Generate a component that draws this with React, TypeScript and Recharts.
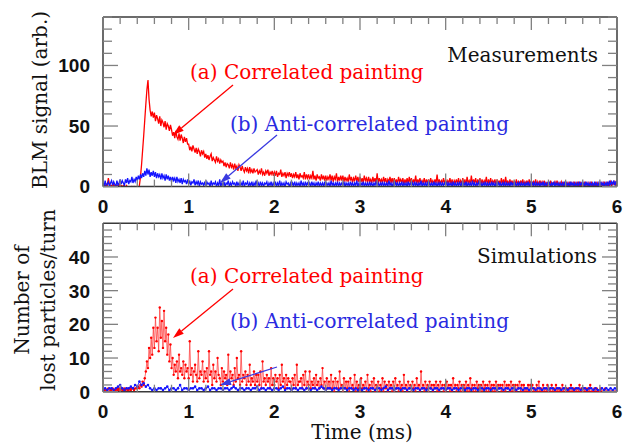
import React from 'react'
import { LineChart, Line, XAxis, YAxis } from 'recharts'

// sample spacing of the traces, in ms
const MEAS_STEP = 0.0125
const SIM_STEP = 0.0125
const SIM_ANTI_STEP = 0.025

// BLM signal, correlated painting (16 samples = 0.2 ms per row)
const MEAS_CORRELATED = [
  0, 1, 0, 2, 1, 7, 2, 0, 1, 0, 2, 0, 1, 1, 0, 2,
  0, 1, 0, 1, 0, 0, 1, -1, 0, 0, -1, 0, -1, 0, -1, -1,
  0, -1, 1, 8, 18, 30, 42, 55, 68, 80, 88, 72, 63, 58, 62, 57,
  61, 54, 59, 56, 52, 58, 50, 55, 53, 49, 54, 47, 52, 50, 46, 51,
  47, 42, 45, 40, 46, 41, 39, 44, 38, 43, 40, 36, 41, 37, 40, 35,
  35, 30, 33, 29, 34, 31, 28, 32, 27, 31, 29, 25, 30, 27, 29, 24,
  27, 23, 26, 22, 25, 27, 21, 24, 22, 20, 25, 21, 23, 19, 22, 20,
  21, 17, 20, 16, 19, 18, 15, 20, 16, 18, 14, 19, 15, 17, 13, 18,
  16, 13, 17, 14, 12, 16, 13, 15, 11, 16, 12, 14, 11, 15, 12, 13,
  14, 10, 13, 11, 15, 10, 12, 9, 13, 11, 14, 9, 12, 10, 13, 9,
  12, 9, 13, 8, 11, 10, 14, 8, 11, 9, 12, 7, 11, 9, 12, 8,
  11, 7, 10, 8, 12, 7, 10, 6, 11, 8, 9, 7, 12, 6, 10, 7,
  10, 6, 9, 7, 13, 6, 9, 5, 10, 7, 8, 5, 10, 6, 9, 5,
  9, 5, 8, 6, 10, 5, 9, 4, 8, 6, 11, 4, 8, 5, 9, 5,
  9, 4, 8, 5, 7, 4, 10, 5, 8, 3, 7, 5, 9, 4, 8, 4,
  8, 4, 7, 3, 9, 5, 7, 3, 8, 4, 6, 3, 8, 4, 7, 3,
  11, 3, 7, 4, 6, 3, 8, 4, 7, 2, 6, 4, 8, 3, 7, 3,
  7, 3, 6, 2, 8, 4, 6, 3, 7, 2, 6, 3, 7, 2, 8, 3,
  7, 2, 6, 3, 9, 2, 6, 3, 7, 2, 5, 3, 7, 2, 6, 3,
  6, 2, 7, 3, 5, 2, 6, 3, 10, 2, 6, 2, 5, 3, 7, 2,
  6, 2, 5, 3, 7, 2, 6, 1, 5, 3, 6, 2, 7, 2, 5, 2,
  7, 2, 6, 1, 8, 3, 5, 2, 9, 2, 6, 3, 7, 1, 6, 2,
  7, 2, 6, 2, 5, 3, 8, 1, 6, 2, 7, 2, 5, 3, 6, 1,
  6, 2, 5, 1, 7, 2, 6, 1, 8, 2, 5, 1, 6, 2, 5, 1,
  5, 1, 6, 2, 4, 1, 5, 2, 6, 1, 4, 2, 5, 1, 6, 1,
  5, 1, 4, 2, 6, 1, 4, 1, 5, 2, 4, 1, 5, 1, 3, 1,
  4, 1, 5, 1, 3, 2, 4, 1, 5, 1, 3, 1, 4, 1, 3, 0,
  4, 1, 3, 0, 4, 1, 3, 1, 4, 0, 3, 1, 4, 0, 3, 1,
  3, 0, 4, 1, 3, 0, 3, 1, 4, 0, 2, 1, 3, 0, 3, 1,
  3, 1, 3, 0, 4, 1, 3, 0, 3, 1, 4, 1, 3, 2, 4, 1,
  3,
]

// BLM signal, anti-correlated painting
const MEAS_ANTI = [
  3, 0, 5, 1, 2, 4, 0, 3, 5, 1, 4, 2, 0, 5, 1, 3,
  6, 2, 5, 3, 1, 6, 3, 7, 2, 5, 4, 8, 3, 6, 4, 8,
  5, 9, 6, 10, 7, 11, 8, 13, 9, 15, 10, 14, 8, 12, 9, 13,
  8, 12, 7, 11, 8, 10, 6, 11, 7, 9, 5, 10, 6, 9, 5, 8,
  4, 8, 5, 7, 3, 8, 4, 6, 3, 7, 2, 6, 4, 5, 2, 6,
  2, 5, 1, 4, 3, 6, 1, 4, 2, 5, 0, 4, 2, 3, 1, 4,
  0, 4, 2, 3, 0, 5, 1, 3, 2, 4, 0, 3, 1, 6, 0, 3,
  1, 4, 0, 3, 2, 5, 0, 3, 1, 4, 2, 3, 0, 4, 1, 3,
  0, 3, 1, 5, 0, 3, 2, 4, 0, 3, 1, 4, 0, 3, 1, 5,
  1, 3, 0, 4, 1, 3, 0, 3, 2, 4, 0, 3, 1, 4, 0, 3,
  1, 4, 0, 3, 1, 5, 0, 3, 1, 3, 0, 4, 2, 3, 0, 3,
  0, 3, 1, 4, 0, 3, 1, 3, 0, 5, 1, 3, 0, 4, 1, 3,
  1, 3, 0, 4, 1, 3, 0, 3, 1, 4, 0, 3, 1, 3, 0, 4,
  0, 3, 1, 3, 0, 5, 1, 3, 0, 3, 1, 4, 0, 3, 1, 3,
  1, 4, 0, 3, 1, 3, 0, 4, 1, 3, 0, 3, 1, 5, 0, 3,
  0, 3, 1, 4, 0, 3, 1, 3, 0, 4, 1, 3, 0, 3, 1, 4,
  1, 3, 0, 3, 1, 4, 0, 3, 1, 3, 0, 5, 1, 3, 0, 3,
  0, 4, 1, 3, 0, 3, 1, 4, 0, 3, 1, 3, 0, 4, 1, 3,
  1, 3, 0, 4, 1, 3, 0, 3, 1, 5, 0, 3, 1, 3, 0, 4,
  0, 3, 1, 3, 0, 4, 1, 3, 0, 3, 1, 4, 0, 3, 1, 3,
  1, 4, 0, 3, 1, 3, 0, 4, 1, 3, 0, 3, 1, 4, 0, 3,
  0, 3, 1, 4, 0, 3, 1, 3, 0, 5, 1, 3, 0, 3, 1, 4,
  1, 3, 0, 3, 1, 4, 0, 3, 1, 3, 0, 4, 1, 3, 0, 3,
  0, 4, 1, 3, 0, 3, 1, 4, 0, 3, 1, 3, 0, 4, 1, 3,
  1, 3, 0, 3, 1, 4, 0, 3, 1, 3, 0, 3, 1, 4, 0, 3,
  0, 3, 1, 4, 0, 3, 1, 3, 0, 3, 1, 4, 0, 3, 1, 3,
  1, 3, 0, 3, 1, 4, 0, 3, 1, 3, 0, 3, 1, 3, 0, 4,
  0, 3, 1, 3, 0, 4, 1, 3, 0, 3, 1, 3, 0, 4, 1, 3,
  1, 3, 0, 4, 1, 3, 0, 3, 1, 3, 0, 4, 1, 3, 0, 3,
  0, 4, 1, 3, 0, 3, 1, 4, 0, 5, 1, 4, 2, 5, 1, 4,
  4,
]

// simulated lost particles per turn, correlated painting (16 samples = 0.2 ms per row)
const SIM_CORRELATED = [
  0, 0.5, 0, 0.5, 0, 1, 0, 0.5, 0.5, 1, 0, 0.5, 0.5, 1, 0.5, 1,
  0.5, 1, 0.5, 0.5, 1, 0.5, 1, 0.5, 0.5, 1, 0.5, 1, 1, 0.5, 1, 1,
  1, 1.5, 1, 2, 1.5, 3, 2, 4, 6, 9, 7, 13, 10, 16, 11, 19,
  13, 22, 15, 19, 12, 25, 16, 21, 13, 24, 15, 19, 11, 17, 9, 14,
  7, 10, 5, 8, 6, 9, 4, 11, 6, 7, 5, 9, 4, 8, 6, 7,
  4, 15, 5, 7, 3, 6, 8, 5, 3, 12, 4, 6, 5, 9, 3, 6,
  4, 7, 3, 12, 5, 6, 2, 8, 4, 6, 3, 10, 5, 4, 2, 7,
  3, 6, 4, 5, 2, 11, 3, 6, 4, 5, 2, 7, 3, 10, 4, 5,
  2, 12, 3, 5, 4, 6, 2, 5, 3, 8, 2, 4, 3, 6, 2, 5,
  3, 5, 2, 6, 1, 9, 3, 4, 2, 5, 3, 4, 1, 7, 2, 4,
  2, 5, 3, 4, 1, 5, 2, 8, 3, 4, 1, 5, 2, 4, 3, 3,
  1, 4, 2, 5, 1, 8, 2, 3, 3, 4, 1, 5, 2, 6, 1, 3,
  2, 6, 1, 3, 2, 4, 1, 5, 2, 3, 1, 4, 2, 7, 1, 3,
  1, 4, 1, 3, 1, 5, 1, 3, 0, 4, 1, 3, 1, 6, 1, 2,
  0, 4, 1, 3, 1, 3, 0, 4, 1, 2, 1, 5, 0, 3, 1, 2,
  0, 4, 1, 2, 1, 3, 0, 5, 1, 2, 0, 3, 1, 4, 0, 2,
  1, 3, 0, 2, 1, 4, 0, 3, 1, 2, 0, 3, 1, 2, 0, 3,
  0, 4, 1, 2, 0, 3, 1, 2, 0, 5, 1, 2, 0, 3, 1, 2,
  0, 3, 1, 2, 0, 4, 1, 2, 0, 6, 1, 2, 0, 3, 1, 2,
  0, 3, 1, 2, 0, 2, 1, 3, 0, 2, 0, 3, 1, 2, 0, 2,
  0, 3, 1, 2, 0, 2, 0, 4, 1, 2, 0, 2, 1, 3, 0, 2,
  0, 2, 1, 3, 0, 2, 0, 4, 1, 2, 0, 2, 0, 3, 1, 2,
  0, 2, 0, 3, 1, 2, 0, 2, 0, 3, 1, 2, 0, 2, 0, 3,
  0, 2, 1, 2, 0, 2, 0, 3, 0, 2, 1, 2, 0, 3, 0, 2,
  0, 2, 0, 2, 1, 3, 0, 2, 0, 2, 0, 1, 0, 2, 0, 2,
  0, 2, 0, 1, 0, 2, 0, 3, 0, 1, 0, 2, 0, 1, 0, 2,
  0, 1, 0, 2, 0, 1, 0, 2, 0, 1, 0, 1, 0, 2, 0, 1,
  0, 1, 0, 1, 0, 2, 0, 1, 0, 1, 0, 1, 0, 2, 0, 1,
  0, 1, 0, 1, 0, 1, 0, 2, 0, 0, 0, 1, 0, 1, 0, 0,
  0, 1, 0, 0, 0, 1, 0, 0, 0, 0, 0, 0, 0, 0, 0, 0,
  0,
]

// simulated lost particles per turn, anti-correlated painting (8 samples per row)
const SIM_ANTI = [
  0.5, 1, 0.5, 1, 1, 0.5, 1, 1.5,
  2, 1, 0.5, 1, 1, 1.5, 1, 2,
  1.5, 3, 2, 2.5, 1.5, 2, 1, 0.5,
  1, 0.5, 1, 1, 0.5, 1, 1.5, 0.5,
  1, 1, 0.5, 1, 2, 0.5, 1, 1,
  0.5, 1, 1, 1.5, 0.5, 1, 1, 0.5,
  1, 1.5, 0.5, 1, 1, 0.5, 1, 1,
  0.5, 1, 1, 0.5, 1, 1.5, 1, 0.5,
  1, 1, 0.5, 1, 1, 0.5, 1, 1,
  1.5, 0.5, 1, 1, 0.5, 1, 1, 0.5,
  1, 1, 0.5, 1, 1.5, 0.5, 1, 1,
  0.5, 1, 1, 0.5, 1, 1, 0.5, 1,
  1, 0.5, 1, 1, 0.5, 1, 1.5, 1,
  0.5, 1, 1, 0.5, 1, 1, 0.5, 1,
  1, 1, 0.5, 1, 1, 0.5, 1, 0.5,
  1, 0.5, 1, 1, 0.5, 1, 1, 0.5,
  1, 1, 0.5, 1, 1.5, 0.5, 1, 1,
  0.5, 1, 1, 0.5, 1, 1, 0.5, 1,
  1, 0.5, 1, 1, 0.5, 1, 1, 0.5,
  1, 1, 0.5, 1, 1, 0.5, 1, 1,
  0.5, 1, 1, 0.5, 1, 1, 0.5, 1,
  1, 0.5, 1, 1, 0.5, 1, 1, 0.5,
  1, 1, 0.5, 1, 1, 0.5, 1, 1,
  0.5, 1, 1, 0.5, 1, 1, 0.5, 1,
  1, 0.5, 1, 1, 0.5, 1, 1, 0.5,
  1, 1, 0.5, 1, 1, 0.5, 1, 1,
  0.5, 1, 1, 0.5, 1, 1, 0.5, 1,
  1, 0.5, 1, 1, 0.5, 1, 1, 0.5,
  1, 1, 0.5, 1, 1, 0.5, 1, 0.5,
  0.5, 1, 0.5, 1, 0.5, 1, 0.5, 1,
  0.5,
]

const TIME_TICKS = [
  0, 0.2, 0.4, 0.6, 0.8, 1, 1.2, 1.4, 1.6, 1.8, 2, 2.2, 2.4, 2.6, 2.8, 3,
  3.2, 3.4, 3.6, 3.8, 4, 4.2, 4.4, 4.6, 4.8, 5, 5.2, 5.4, 5.6, 5.8, 6,
]
const MEAS_TICKS = [0, 10, 20, 30, 40, 50, 60, 70, 80, 90, 100, 110, 120, 130, 140]
const MEAS_LABELED = [0, 50, 100]
const SIM_TICKS = [0, 2, 4, 6, 8, 10, 12, 14, 16, 18, 20, 22, 24, 26, 28, 30, 32, 34, 36, 38, 40, 42, 44, 46, 48]
const SIM_LABELED = [0, 10, 20, 30, 40]

type Pt = { t: number; v: number }
const toPoints = (vals: number[], step: number): Pt[] => vals.map((v, i) => ({ t: i * step, v }))

const W = 625
const H = 443
const LEFT = 103
const RIGHT = 8
const MEAS_TOP = 17
const MEAS_BOTTOM = 186.6
const SIM_TOP = 223.3
const SIM_BOTTOM = 391.7

const RED = '#ff0000'
const BLUE = '#1414ff'
const FRAME = '#3a3a3a'
const TICK = '#808080'
const SERIF = '"DejaVu Serif", serif'
const NUM_FONT = '"Liberation Sans", Arial, sans-serif'

const isWhole = (v: number) => Number.isInteger(v)

// ticks point inward from the frame; numbers only on the left and bottom
function makeTick(side: 'top' | 'bottom' | 'left' | 'right', major: (v: number) => boolean) {
  return (props: any) => {
    const { x, y, payload } = props
    const v = payload.value as number
    const big = major(v)
    const len = big ? 13 : 7
    if (side === 'bottom') {
      return (
        <g>
          <line x1={x} x2={x} y1={y} y2={y - len} stroke={TICK} strokeWidth={1.3} />
          {big && (
            <text x={x} y={y + 26} textAnchor="middle" fontFamily={NUM_FONT} fontWeight="bold" fontSize={19} fill="#111">
              {v}
            </text>
          )}
        </g>
      )
    }
    if (side === 'top') {
      return <line x1={x} x2={x} y1={y} y2={y + len} stroke={TICK} strokeWidth={1.3} />
    }
    if (side === 'left') {
      return (
        <g>
          <line x1={x} x2={x + len + 2} y1={y} y2={y} stroke={TICK} strokeWidth={1.3} />
          {big && (
            <text x={x - 13} y={y} dy="0.36em" textAnchor="end" fontFamily={NUM_FONT} fontWeight="bold" fontSize={19} fill="#111">
              {v}
            </text>
          )}
        </g>
      )
    }
    return <line x1={x} x2={x - len - 2} y1={y} y2={y} stroke={TICK} strokeWidth={1.3} />
  }
}

type PanelProps = {
  red: Pt[]
  blue: Pt[]
  top: number
  bottom: number
  yMax: number
  yTicks: number[]
  labeled: number[]
  dots?: boolean
}

// one framed panel; the axes are 1px thick so their lines sit on the plot edges
function Panel({ red, blue, top, bottom, yMax, yTicks, labeled, dots }: PanelProps) {
  const yMajor = (v: number) => labeled.includes(v)
  const xCommon = {
    dataKey: 't',
    type: 'number' as const,
    domain: [0, 6],
    ticks: TIME_TICKS,
    interval: 0,
    allowDataOverflow: true,
    height: 1,
    tickSize: 0,
    tickMargin: 0,
    tickLine: false,
    axisLine: { stroke: FRAME, strokeWidth: 1.5 },
  }
  const yCommon = {
    type: 'number' as const,
    domain: [0, yMax],
    ticks: yTicks,
    interval: 0,
    allowDataOverflow: true,
    width: 1,
    tickSize: 0,
    tickMargin: 0,
    tickLine: false,
    axisLine: { stroke: FRAME, strokeWidth: 1.5 },
  }
  return (
    <div style={{ position: 'absolute', left: 0, top: 0 }}>
      <LineChart width={W} height={H} margin={{ top: top - 1, right: RIGHT - 1, bottom: H - bottom - 1, left: LEFT - 1 }}>
        <XAxis xAxisId="b" {...xCommon} tick={makeTick('bottom', isWhole)} />
        <XAxis xAxisId="t" orientation="top" {...xCommon} tick={makeTick('top', isWhole)} />
        <YAxis yAxisId="l" {...yCommon} tick={makeTick('left', yMajor)} />
        <YAxis yAxisId="r" orientation="right" {...yCommon} tick={makeTick('right', yMajor)} />
        <Line
          xAxisId="b"
          yAxisId="l"
          data={red}
          dataKey="v"
          type="linear"
          stroke={dots ? '#ff4444' : RED}
          strokeWidth={dots ? 0.8 : 1.3}
          dot={dots ? { r: 1.2, fill: RED, stroke: 'none' } : false}
          isAnimationActive={false}
        />
        <Line
          xAxisId="b"
          yAxisId="l"
          data={blue}
          dataKey="v"
          type="linear"
          stroke={BLUE}
          strokeWidth={dots ? 0.9 : 1.3}
          dot={dots ? { r: 1.3, fill: BLUE, stroke: 'none' } : false}
          isAnimationActive={false}
        />
      </LineChart>
    </div>
  )
}

function Arrow({ x1, y1, x2, y2, color }: { x1: number; y1: number; x2: number; y2: number; color: string }) {
  const ang = Math.atan2(y2 - y1, x2 - x1)
  const hl = 11
  const hw = 3.5
  const bx = x2 - hl * Math.cos(ang)
  const by = y2 - hl * Math.sin(ang)
  const px = -Math.sin(ang) * hw
  const py = Math.cos(ang) * hw
  return (
    <g>
      <line x1={x1} y1={y1} x2={bx} y2={by} stroke={color} strokeWidth={1.3} />
      <polygon points={`${x2},${y2} ${bx + px},${by + py} ${bx - px},${by - py}`} fill={color} />
    </g>
  )
}

export default function App() {
  return (
    <div style={{ position: 'absolute', left: 0, top: 0, width: W, height: H, background: '#fff' }}>
      <Panel
        red={toPoints(MEAS_CORRELATED, MEAS_STEP)}
        blue={toPoints(MEAS_ANTI, MEAS_STEP)}
        top={MEAS_TOP}
        bottom={MEAS_BOTTOM}
        yMax={140}
        yTicks={MEAS_TICKS}
        labeled={MEAS_LABELED}
      />
      <Panel
        red={toPoints(SIM_CORRELATED, SIM_STEP)}
        blue={toPoints(SIM_ANTI, SIM_ANTI_STEP)}
        top={SIM_TOP}
        bottom={SIM_BOTTOM}
        yMax={50}
        yTicks={SIM_TICKS}
        labeled={SIM_LABELED}
        dots
      />
      <svg width={W} height={H} style={{ position: 'absolute', left: 0, top: 0 }}>
        <g fontFamily={SERIF} fontSize={20}>
          <text x={598} y={62} textAnchor="end" fill="#111">Measurements</text>
          <text x={190} y={79} fill={RED}>(a) Correlated painting</text>
          <text x={230} y={131} fill="#2a2ae0">(b) Anti-correlated painting</text>
          <text x={597} y={263} textAnchor="end" fill="#111">Simulations</text>
          <text x={190} y={283} fill={RED}>(a) Correlated painting</text>
          <text x={230} y={328} fill="#2a2ae0">(b) Anti-correlated painting</text>
          <text x={362} y={439} textAnchor="middle" fill="#111">Time (ms)</text>
          <text transform="translate(47,100) rotate(-90)" textAnchor="middle" fill="#111">BLM signal (arb.)</text>
          <text transform="translate(29,300) rotate(-90)" textAnchor="middle" fill="#111">Number of</text>
          <text transform="translate(55,300) rotate(-90)" textAnchor="middle" fill="#111">lost particles/turn</text>
        </g>
        <Arrow x1={233} y1={85} x2={173} y2={135} color={RED} />
        <Arrow x1={277} y1={135} x2={220} y2={183} color="#3a3ae0" />
        <Arrow x1={233} y1={289} x2={173} y2={338} color={RED} />
        <Arrow x1={277} y1={367} x2={220} y2={385} color="#3a3ae0" />
      </svg>
    </div>
  )
}
